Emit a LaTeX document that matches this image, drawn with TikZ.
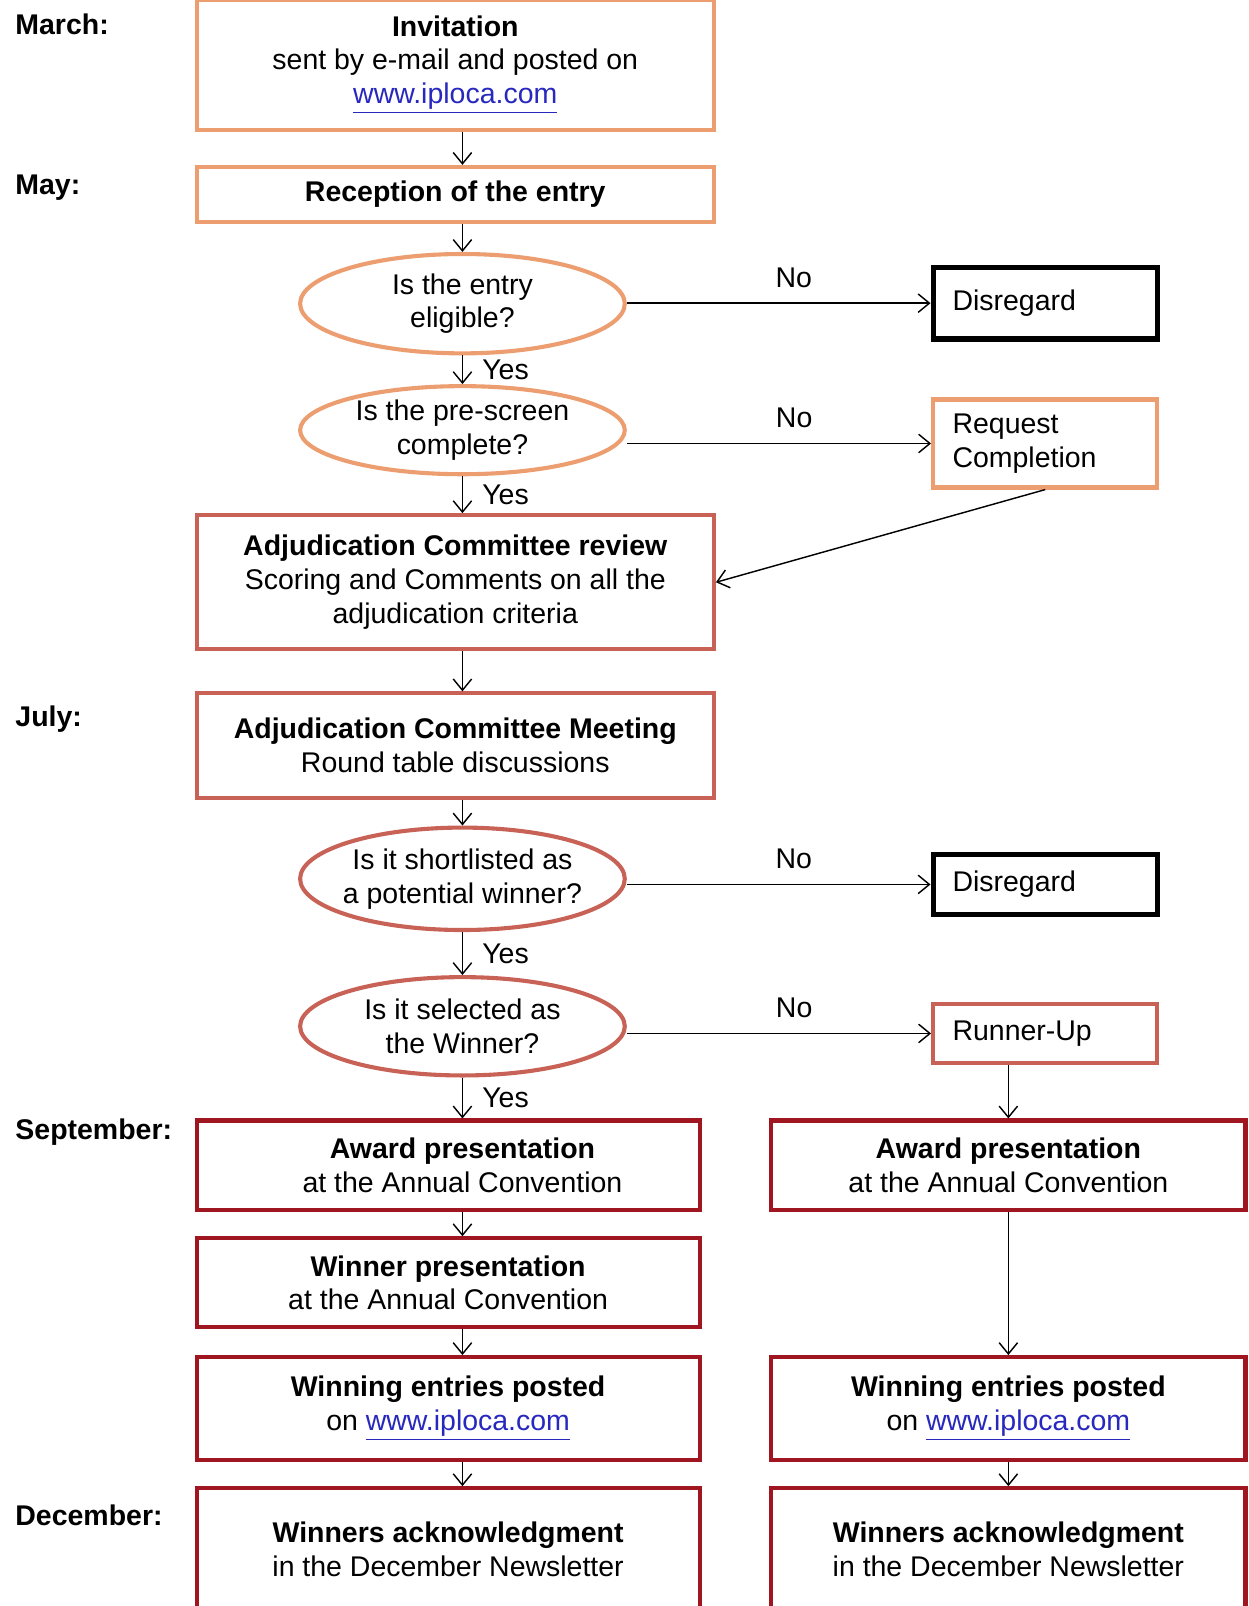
\documentclass[tikz,border=0pt]{standalone}
\usepackage{fontspec}
\setmainfont{Liberation Sans}
\usetikzlibrary{shapes.geometric,arrows.meta}
\definecolor{lor}{RGB}{236,158,112}
\definecolor{mred}{RGB}{200,98,86}
\definecolor{dred}{RGB}{160,22,32}
\definecolor{urlblue}{RGB}{40,40,190}
\newcommand{\iploca}{\textcolor{urlblue}{\underline{www.iploca.com}}}
\begin{document}
\begin{tikzpicture}[x=0.5pt,y=-0.5pt,
  every node/.style={font=\fontsize{13.9}{16.5}\selectfont},
  box/.style={draw, rectangle, line width=2pt, fill=white, align=center, inner sep=0pt},
  sidebox/.style={draw, rectangle, line width=2pt, fill=white, align=left, inner sep=0pt, inner xsep=9.5pt, text width=90.5pt},
  dec/.style={draw, ellipse, line width=2pt, fill=white, align=center, inner sep=0pt, inner xsep=-12pt, minimum width=158.5pt},
  arr/.style={-{Straight Barb[length=5.5pt,width=9pt]}, line width=0.7pt},
  lab/.style={anchor=west, font=\bfseries\fontsize{13.9}{16.5}\selectfont},
  nolab/.style={pos=0.55, above=4pt},
  yeslab/.style={midway, right=6pt},
]
\useasboundingbox[fill=white] (0,0) rectangle (1219,1568);
\coordinate (sp) at (451.5,0);

% month labels
\node[lab] (mar) at (8,24) {March:};
\node[lab] (may) at (8,183) {May:};
\node[lab] (jul) at (8,702) {July:};
\node[lab] (sep) at (8,1105) {September:};
\node[lab] (dec) at (8,1479) {December:};

% left column
\node[box, draw=lor, minimum width=252.5pt, minimum height=63.5pt] (inv) at (444.5,63)
  {\textbf{Invitation}\\sent by e-mail and posted on\\\iploca};
\node[box, draw=lor, minimum width=252.5pt, minimum height=27pt] (rec) at (444.5,190)
  {\textbf{Reception of the entry}};
\node[dec, draw=lor, minimum height=48.5pt] (q1) at (451.5,296.5) {Is the entry\\eligible?};
\node[dec, draw=lor, minimum height=43pt] (q2) at (451.5,420) {Is the pre-screen\\complete?};
\node[box, draw=mred, minimum width=252.5pt, minimum height=65.5pt] (adj) at (444.5,568.5)
  {\textbf{Adjudication Committee review}\\Scoring and Comments on all the\\adjudication criteria};
\node[box, draw=mred, minimum width=252.5pt, minimum height=51pt] (meet) at (444.5,728)
  {\textbf{Adjudication Committee Meeting}\\Round table discussions};
\node[dec, draw=mred, minimum height=50pt] (q3) at (451.5,858) {Is it shortlisted as\\a potential winner?};
\node[dec, draw=mred, minimum height=48pt] (q4) at (451.5,1002) {Is it selected as\\the Winner?};

\node[box, draw=dred, minimum width=245.5pt, minimum height=43.5pt] (awl) at (437.5,1137.5)
  {\hspace*{14pt}\textbf{Award presentation}\\\hspace*{14pt}at the Annual Convention};
\node[box, draw=dred, minimum width=245.5pt, minimum height=43.5pt] (win) at (437.5,1252.5)
  {\textbf{Winner presentation}\\at the Annual Convention};
\node[box, draw=dred, minimum width=245.5pt, minimum height=50pt] (wel) at (437.5,1375)
  {\textbf{Winning entries posted}\\on \iploca};
\node[box, draw=dred, minimum width=245.5pt, minimum height=59.5pt] (ackl) at (437.5,1512.5)
  {\textbf{Winners acknowledgment}\\in the December Newsletter};

% right column
\node[sidebox, draw=black, line width=2.5pt, minimum height=35pt] (dis1) at (1020.5,296) {Disregard};
\node[sidebox, draw=lor, minimum height=43pt] (req) at (1020.5,433) {Request\\Completion};
\node[sidebox, draw=black, line width=2.5pt, minimum height=29.5pt] (dis2) at (1020.5,863.5) {Disregard};
\node[sidebox, draw=mred, minimum height=29pt] (run) at (1020.5,1009) {Runner-Up};

\node[box, draw=dred, minimum width=231.5pt, minimum height=43.5pt] (awr) at (984.5,1137.5)
  {\textbf{Award presentation}\\at the Annual Convention};
\node[box, draw=dred, minimum width=231.5pt, minimum height=50pt] (wer) at (984.5,1375)
  {\textbf{Winning entries posted}\\on \iploca};
\node[box, draw=dred, minimum width=231.5pt, minimum height=59.5pt] (ackr) at (984.5,1512.5)
  {\textbf{Winners acknowledgment}\\in the December Newsletter};

% connectors
\draw[arr] (inv.south -| sp) -- (rec.north -| sp);
\draw[arr] (rec.south -| sp) -- (q1.north);
\draw[arr] (q1.south) -- (q2.north) node[yeslab] {Yes};
\draw[arr] (q2.south) -- (adj.north -| sp) node[yeslab] {Yes};
\draw[arr] (adj.south -| sp) -- (meet.north -| sp);
\draw[arr] (meet.south -| sp) -- (q3.north);
\draw[arr] (q3.south) -- (q4.north) node[yeslab] {Yes};
\draw[arr] (q4.south) -- (awl.north -| sp) node[yeslab] {Yes};
\draw[arr] (awl.south -| sp) -- (win.north -| sp);
\draw[arr] (win.south -| sp) -- (wel.north -| sp);
\draw[arr] (wel.south -| sp) -- (ackl.north -| sp);

\draw[arr] (dis1.west -| q1.east) -- (dis1.west) node[nolab] {No};
\draw[arr] (req.west -| q2.east) -- (req.west) node[nolab] {No};
\draw[arr] (dis2.west -| q3.east) -- (dis2.west) node[nolab] {No};
\draw[arr] (run.west -| q4.east) -- (run.west) node[nolab] {No};

\draw[arr] (req.south) -- (adj.east);
\draw[arr] (run.south -| awr.north) -- (awr.north);
\draw[arr] (awr.south) -- (wer.north);
\draw[arr] (wer.south) -- (ackr.north);
\end{tikzpicture}
\end{document}
